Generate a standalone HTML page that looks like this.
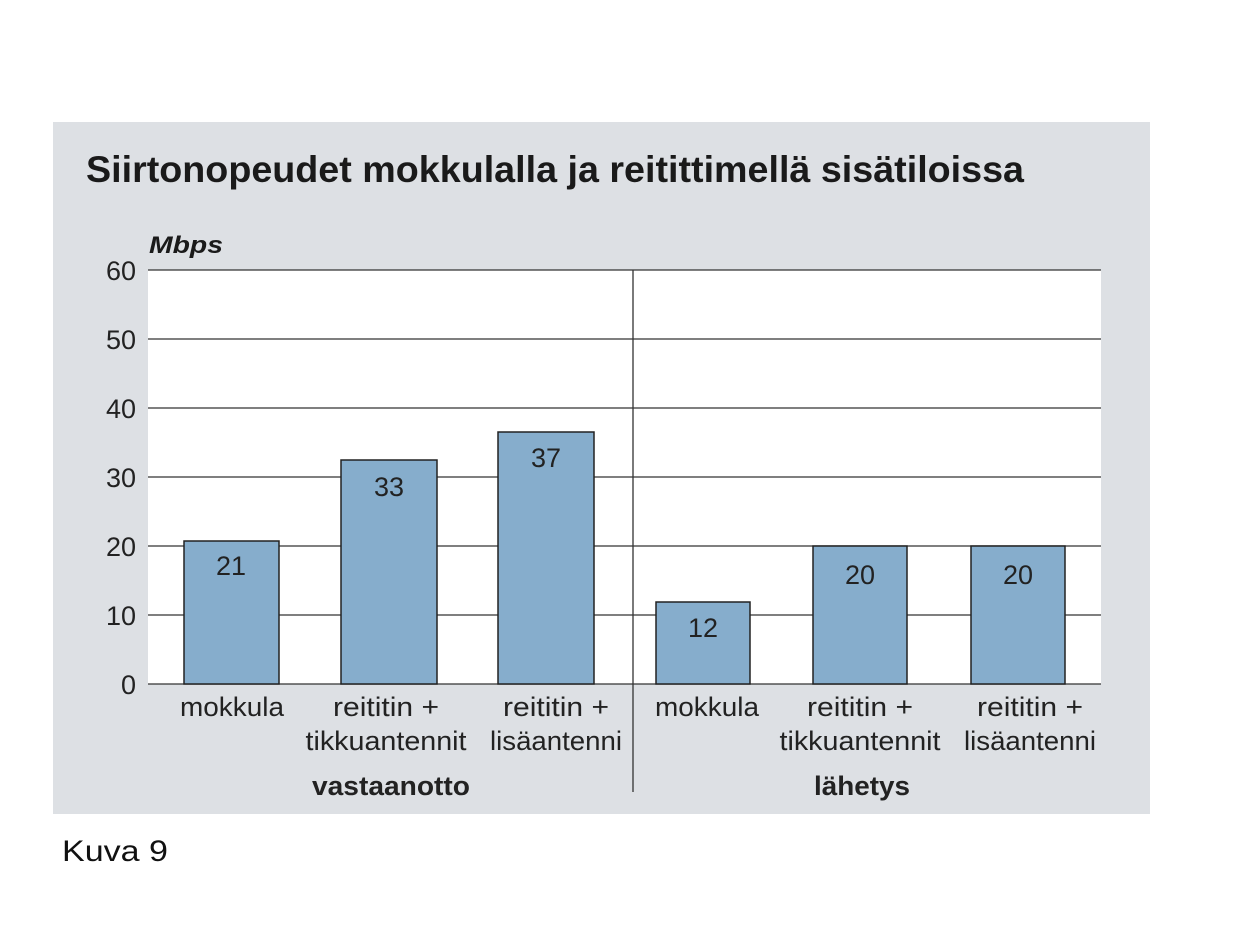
<!DOCTYPE html>
<html><head><meta charset="utf-8"><style>
body{margin:0;background:#fff;width:1240px;height:925px;overflow:hidden}
svg text{font-family:"Liberation Sans",sans-serif}
</style></head><body>
<svg width="1240" height="925" xmlns="http://www.w3.org/2000/svg">
<rect x="53" y="122" width="1097" height="692" fill="#dde0e4"/>
<text x="86" y="182" font-size="37" font-weight="bold" fill="#1a1a1a" textLength="938" lengthAdjust="spacingAndGlyphs">Siirtonopeudet mokkulalla ja reitittimellä sisätiloissa</text>
<text x="149" y="253" font-size="24" font-weight="bold" font-style="italic" fill="#1a1a1a" textLength="74" lengthAdjust="spacingAndGlyphs">Mbps</text>
<rect x="148" y="270" width="953" height="414" fill="#fff"/>
<g stroke="#333" stroke-width="1.3">
<line x1="148" x2="1101" y1="270" y2="270"/>
<line x1="148" x2="1101" y1="339" y2="339"/>
<line x1="148" x2="1101" y1="408" y2="408"/>
<line x1="148" x2="1101" y1="477" y2="477"/>
<line x1="148" x2="1101" y1="546" y2="546"/>
<line x1="148" x2="1101" y1="615" y2="615"/>
<line x1="148" x2="1101" y1="684" y2="684"/>
<line x1="633" x2="633" y1="270" y2="792"/>
</g>
<g font-size="27" fill="#222" text-anchor="end">
<text x="136" y="280">60</text><text x="136" y="349">50</text><text x="136" y="418">40</text>
<text x="136" y="487">30</text><text x="136" y="556">20</text><text x="136" y="625">10</text><text x="136" y="694">0</text>
</g>
<g fill="#86adcc" stroke="#222" stroke-width="1.5">
<rect x="184" y="541" width="95" height="143"/>
<rect x="341" y="460" width="96" height="224"/>
<rect x="498" y="432" width="96" height="252"/>
<rect x="656" y="602" width="94" height="82"/>
<rect x="813" y="546" width="94" height="138"/>
<rect x="971" y="546" width="94" height="138"/>
</g>
<g font-size="27" fill="#222" text-anchor="middle">
<text x="231" y="575">21</text><text x="389" y="496">33</text><text x="546" y="467">37</text>
<text x="703" y="637">12</text><text x="860" y="584">20</text><text x="1018" y="584">20</text>
</g>
<g font-size="27" fill="#222" text-anchor="middle">
<text x="232" y="716" textLength="104" lengthAdjust="spacingAndGlyphs">mokkula</text>
<text x="386" y="716" textLength="106" lengthAdjust="spacingAndGlyphs">reititin +</text><text x="386" y="750" textLength="161" lengthAdjust="spacingAndGlyphs">tikkuantennit</text>
<text x="556" y="716" textLength="106" lengthAdjust="spacingAndGlyphs">reititin +</text><text x="556" y="750" textLength="132" lengthAdjust="spacingAndGlyphs">lisäantenni</text>
<text x="707" y="716" textLength="104" lengthAdjust="spacingAndGlyphs">mokkula</text>
<text x="860" y="716" textLength="106" lengthAdjust="spacingAndGlyphs">reititin +</text><text x="860" y="750" textLength="161" lengthAdjust="spacingAndGlyphs">tikkuantennit</text>
<text x="1030" y="716" textLength="106" lengthAdjust="spacingAndGlyphs">reititin +</text><text x="1030" y="750" textLength="132" lengthAdjust="spacingAndGlyphs">lisäantenni</text>
<text x="391" y="795" font-weight="bold" textLength="158" lengthAdjust="spacingAndGlyphs">vastaanotto</text>
<text x="862" y="795" font-weight="bold" textLength="96" lengthAdjust="spacingAndGlyphs">lähetys</text>
</g>
<text x="62" y="861" font-size="30" fill="#111" textLength="106" lengthAdjust="spacingAndGlyphs">Kuva 9</text>
</svg>
</body></html>
